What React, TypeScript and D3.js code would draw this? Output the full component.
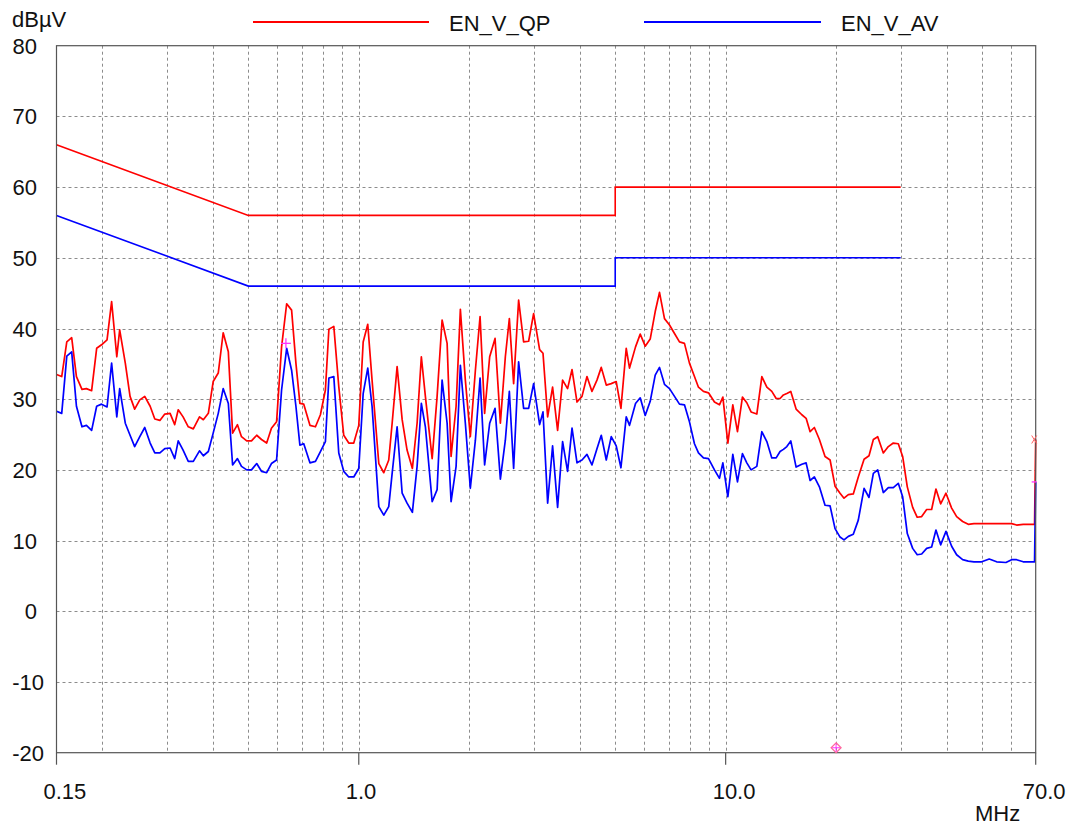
import React from "react";
import * as d3 from "d3";

// ---- data (frequency in MHz, level in dBµV) ----
const freqs: number[] = [
  0.150, 0.155, 0.160, 0.165, 0.170, 0.176, 0.181, 0.187, 0.193, 0.199, 0.206, 0.212, 0.219, 0.223, 0.231, 0.238, 0.245,
  0.253, 0.261, 0.270, 0.278, 0.287, 0.296, 0.306, 0.315, 0.322, 0.332, 0.343, 0.354, 0.368, 0.377, 0.389, 0.401, 0.414,
  0.427, 0.441, 0.453, 0.467, 0.479, 0.495, 0.510, 0.527, 0.543, 0.561, 0.578, 0.597, 0.616, 0.636, 0.656, 0.674, 0.691,
  0.708, 0.736, 0.762, 0.786, 0.811, 0.829, 0.855, 0.882, 0.910, 0.939, 0.969, 1.000, 1.028, 1.058, 1.087, 1.134, 1.170,
  1.207, 1.233, 1.272, 1.313, 1.354, 1.400, 1.442, 1.481, 1.519, 1.585, 1.635, 1.687, 1.741, 1.785, 1.842, 1.892, 1.952,
  2.014, 2.079, 2.141, 2.203, 2.274, 2.352, 2.432, 2.509, 2.573, 2.643, 2.727, 2.814, 2.904, 2.996, 3.111,
  3.178, 3.272, 3.375, 3.483, 3.594, 3.708, 3.813, 3.934, 4.059, 4.188, 4.321, 4.459, 4.581, 4.727, 4.877, 5.032, 5.183,
  5.358, 5.470, 5.680, 5.850, 6.036, 6.228, 6.427, 6.602, 6.812, 7.030, 7.254, 7.484, 7.722, 7.968, 8.222, 8.431, 8.699,
  8.979, 9.322, 9.619, 9.826, 10.14, 10.46, 10.77, 11.11, 11.42, 11.73, 12.16, 12.55, 12.95, 13.36, 13.73, 14.07,
  14.37, 14.68, 15.05, 15.56, 16.13, 16.57, 16.99, 17.45, 18.01, 18.66, 19.26, 19.87, 20.50, 21.02, 21.60, 22.28, 22.99,
  23.84, 24.59, 25.27, 25.97, 26.90, 27.76, 28.64, 29.55, 30.37, 31.27, 32.34, 33.28, 34.22, 35.31, 36.43, 37.43, 38.55,
  39.86, 41.30, 42.62, 44.26, 45.84, 47.51, 49.87, 52.30, 54.78, 58.07, 60.18, 62.09, 64.72, 69.5, 70.0,
];

const qpValues: number[] = [
  33.5, 33.2, 38.1, 38.7, 33.2, 31.4, 31.5, 31.2, 37.2, 37.7, 38.4, 43.8, 36.0, 39.8, 35.1, 30.4, 28.6,
  29.9, 30.4, 29.0, 27.2, 27.0, 27.9, 28.0, 26.4, 28.5, 27.5, 26.1, 25.8, 27.5, 27.1, 28.0, 32.5, 33.7,
  39.4, 36.7, 25.2, 26.4, 24.7, 24.1, 24.1, 24.9, 24.3, 23.8, 25.9, 26.8, 37.4, 43.5, 42.6, 35.1, 29.4,
  29.3, 26.3, 26.1, 27.8, 31.3, 39.9, 40.3, 31.8, 24.9, 23.8, 23.8, 26.3, 38.1, 40.6, 32.7, 20.9, 19.6,
  21.4, 26.6, 34.6, 27.1, 22.8, 20.2, 26.6, 36.0, 30.4, 21.6, 30.4, 41.2, 37.9, 21.9, 29.0, 42.7, 32.7,
  24.7, 34.1, 41.7, 28.0, 36.0, 38.6, 26.6, 36.0, 41.4, 32.2, 44.0, 38.1, 38.2, 42.1, 37.0,
  36.5, 27.5, 31.7, 25.6, 32.7, 31.5, 34.2, 29.6, 30.4, 33.2, 31.1, 32.7, 34.5, 32.0, 32.2, 32.5, 28.7,
  37.2, 34.4, 37.4, 39.2, 37.5, 38.5, 42.4, 45.1, 41.4, 40.5, 39.3, 38.1, 37.9, 35.1, 33.2, 31.7, 31.1,
  30.9, 29.6, 29.2, 30.3, 23.8, 29.2, 25.4, 30.3, 29.5, 28.2, 27.9, 33.2, 31.7, 31.1, 30.1, 30.1,
  30.6, 30.8, 31.1, 28.6, 27.8, 27.3, 25.4, 26.0, 24.3, 21.9, 21.4, 17.7, 16.7, 16.0, 16.5, 16.6, 19.0,
  21.5, 22.0, 24.3, 24.7, 22.4, 23.3, 23.8, 23.7, 21.9, 17.6, 14.7, 13.3, 13.4, 14.4, 14.4, 17.3, 15.2,
  16.7, 14.6, 13.4, 12.7, 12.3, 12.4, 12.4, 12.4, 12.4, 12.4, 12.4, 12.2, 12.3, 12.3, 24.3,
];

const avValues: number[] = [
  28.3, 28.0, 36.1, 36.7, 29.0, 26.1, 26.3, 25.6, 29.0, 29.3, 28.9, 35.1, 27.5, 31.5, 26.6, 24.9, 23.3,
  24.7, 26.0, 23.8, 22.4, 22.4, 23.0, 23.1, 21.6, 24.1, 22.8, 21.2, 21.2, 22.7, 22.0, 22.6, 25.2, 28.0,
  31.5, 29.4, 20.7, 21.6, 20.5, 20.0, 20.0, 20.9, 19.8, 19.6, 20.9, 21.4, 31.3, 37.2, 34.1, 29.0, 23.5,
  23.7, 21.0, 21.2, 22.6, 24.0, 33.0, 33.2, 22.4, 19.8, 19.0, 19.0, 20.2, 30.8, 34.4, 29.0, 14.8, 13.6,
  14.8, 19.5, 26.1, 16.7, 15.3, 14.0, 20.5, 29.4, 26.1, 15.5, 17.2, 32.7, 26.6, 15.5, 20.5, 34.8, 26.6,
  17.4, 24.2, 33.0, 20.7, 26.6, 28.7, 18.7, 24.2, 31.1, 20.2, 35.3, 28.7, 28.7, 32.2, 26.4,
  28.2, 15.3, 23.4, 14.7, 24.0, 19.8, 25.9, 21.0, 21.4, 22.2, 20.7, 23.0, 24.9, 21.4, 24.7, 23.4, 20.3,
  27.5, 26.3, 29.4, 30.2, 27.7, 29.7, 33.4, 34.5, 32.1, 31.5, 30.4, 29.3, 29.2, 26.8, 23.7, 22.4, 21.7,
  21.6, 20.0, 18.8, 21.0, 16.2, 22.2, 18.3, 22.3, 21.0, 20.0, 20.5, 25.4, 24.0, 21.7, 21.7, 22.6,
  22.9, 23.3, 24.1, 20.4, 20.8, 21.0, 18.5, 19.0, 17.6, 15.0, 14.9, 11.7, 10.5, 10.1, 10.6, 10.9, 12.9,
  17.4, 16.1, 19.5, 20.0, 16.8, 17.5, 17.5, 18.1, 16.2, 11.0, 8.9, 8.0, 8.1, 8.9, 9.1, 11.5, 9.4,
  11.3, 9.2, 8.0, 7.3, 7.1, 7.0, 7.0, 7.4, 7.0, 6.9, 7.3, 7.3, 7.0, 7.0, 18.3,
];

// limit lines
const limitFreqs: number[] = [0.15, 0.5, 5, 5, 30];
const qpLimit: number[] = [66, 56, 56, 60, 60];
const avLimit: number[] = [56, 46, 46, 50, 50];

// axes
const yTicks: number[] = [80, 70, 60, 50, 40, 30, 20, 10, 0, -10, -20];
const xLabelTicks: number[] = [0.15, 1, 10, 70];
const xLabelTexts: string[] = ["0.15", "1.0", "10.0", "70.0"];
const xGrid: number[] = [0.2, 0.3, 0.4, 0.5, 0.6, 0.7, 0.8, 0.9, 1, 2, 3, 4, 5, 6, 7, 8, 9, 10, 20, 30, 40, 50, 60];

const legendNames: string[] = ["EN_V_QP", "EN_V_AV"];
const legendColors: string[] = ["#ff0000", "#0000ff"];

// markers
const crossMarker = { f: 0.633, v: 37.9 };
const diamondMarker = { f: 20, v: -19.3 };

export default function App() {
  const W = 1073;
  const H = 827;
  const left = 56.5, right = 1035.7, top = 45.7, bottom = 752.7;
  const x = d3.scaleLog().domain([0.15, 70]).range([left, right]);
  const y = d3.scaleLinear().domain([-20, 80]).range([bottom, top]);
  const font = "'Liberation Sans', Arial, sans-serif";

  const line = d3
    .line<[number, number]>()
    .x((d) => x(d[0]))
    .y((d) => y(d[1]));

  const qpPath = line(freqs.map((f, i) => [f, qpValues[i]] as [number, number])) || "";
  const avPath = line(freqs.map((f, i) => [f, avValues[i]] as [number, number])) || "";
  const qpLimPath = line(limitFreqs.map((f, i) => [f, qpLimit[i]] as [number, number])) || "";
  const avLimPath = line(limitFreqs.map((f, i) => [f, avLimit[i]] as [number, number])) || "";

  const cx = x(crossMarker.f), cy = y(crossMarker.v);
  const dx = x(diamondMarker.f), dy = y(diamondMarker.v);
  const endX = x(70);

  return (
    <svg width={W} height={H} style={{ position: "absolute", left: 0, top: 0, background: "#fff" }} fontFamily={font}>
      <rect x={0} y={0} width={W} height={H} fill="#fff" />
      {/* grid */}
      <g stroke="#8c8c8c" strokeWidth={1} strokeDasharray="3,3">
        {yTicks.filter((t) => t !== 80 && t !== -20).map((t) => (
          <line key={"h" + t} x1={left} x2={right} y1={Math.round(y(t)) + 0.5} y2={Math.round(y(t)) + 0.5} />
        ))}
        {xGrid.map((f) => (
          <line key={"v" + f} x1={Math.round(x(f)) + 0.5} x2={Math.round(x(f)) + 0.5} y1={top} y2={bottom} />
        ))}
      </g>
      {/* limits */}
      <path d={qpLimPath} fill="none" stroke="#ff0000" strokeWidth={1.6} />
      <path d={avLimPath} fill="none" stroke="#0000ff" strokeWidth={1.6} />
      {/* traces */}
      <path d={qpPath} fill="none" stroke="#ff0000" strokeWidth={1.7} strokeLinejoin="round" />
      <path d={avPath} fill="none" stroke="#0000ff" strokeWidth={1.7} strokeLinejoin="round" />
      {/* frame */}
      <rect x={left} y={top} width={right - left} height={bottom - top} fill="none" stroke="#555" strokeWidth={1.2} />
      {xLabelTicks.map((f) => (
        <line key={"t" + f} x1={x(f)} x2={x(f)} y1={bottom} y2={bottom + 12} stroke="#555" strokeWidth={1.2} />
      ))}
      {/* markers */}
      <g stroke="#ff33ff" strokeWidth={1.3}>
        <line x1={cx - 5} x2={cx + 5} y1={cy} y2={cy} />
        <line x1={cx} x2={cx} y1={cy - 5} y2={cy + 5} />
      </g>
      <g>
        <path d={`M${dx},${dy - 5}L${dx + 5},${dy}L${dx},${dy + 5}L${dx - 5},${dy}Z`} fill="none" stroke="#ff6699" strokeWidth={1.2} />
        <line x1={dx} x2={dx} y1={dy - 4} y2={dy + 4} stroke="#ff33ff" strokeWidth={1} />
        <line x1={dx - 4} x2={dx + 4} y1={dy} y2={dy} stroke="#ff33ff" strokeWidth={1} />
      </g>
      <g stroke="#ff6060" strokeWidth={1}>
        <line x1={endX - 4} x2={endX + 1} y1={y(qpValues[qpValues.length - 1]) - 4} y2={y(qpValues[qpValues.length - 1]) + 4} />
        <line x1={endX - 4} x2={endX + 1} y1={y(qpValues[qpValues.length - 1]) + 4} y2={y(qpValues[qpValues.length - 1]) - 4} />
      </g>
      <line x1={endX - 4} x2={endX + 1} y1={y(avValues[avValues.length - 1])} y2={y(avValues[avValues.length - 1])} stroke="#ff33ff" strokeWidth={1.3} />
      {/* y labels */}
      <g fontSize={22} fill="#111">
        {yTicks.map((t) => (
          <text key={"yl" + t} x={t < 0 ? 44 : 37} y={y(t) + 8} textAnchor="end">
            {t < 0 ? "-" + Math.abs(t) : String(t)}
          </text>
        ))}
        <text x={12} y={27}>dBµV</text>
        {xLabelTicks.map((f, i) => (
          <text key={"xl" + f} x={x(f) - 13} y={799}>
            {xLabelTexts[i]}
          </text>
        ))}
        <text x={975} y={821}>MHz</text>
      </g>
      {/* legend */}
      <g fontSize={22} fill="#111">
        <line x1={253} x2={429} y1={22} y2={22} stroke={legendColors[0]} strokeWidth={2} />
        <text x={449} y={31}>{legendNames[0]}</text>
        <line x1={644} x2={821} y1={22} y2={22} stroke={legendColors[1]} strokeWidth={2} />
        <text x={841} y={31}>{legendNames[1]}</text>
      </g>
    </svg>
  );
}
